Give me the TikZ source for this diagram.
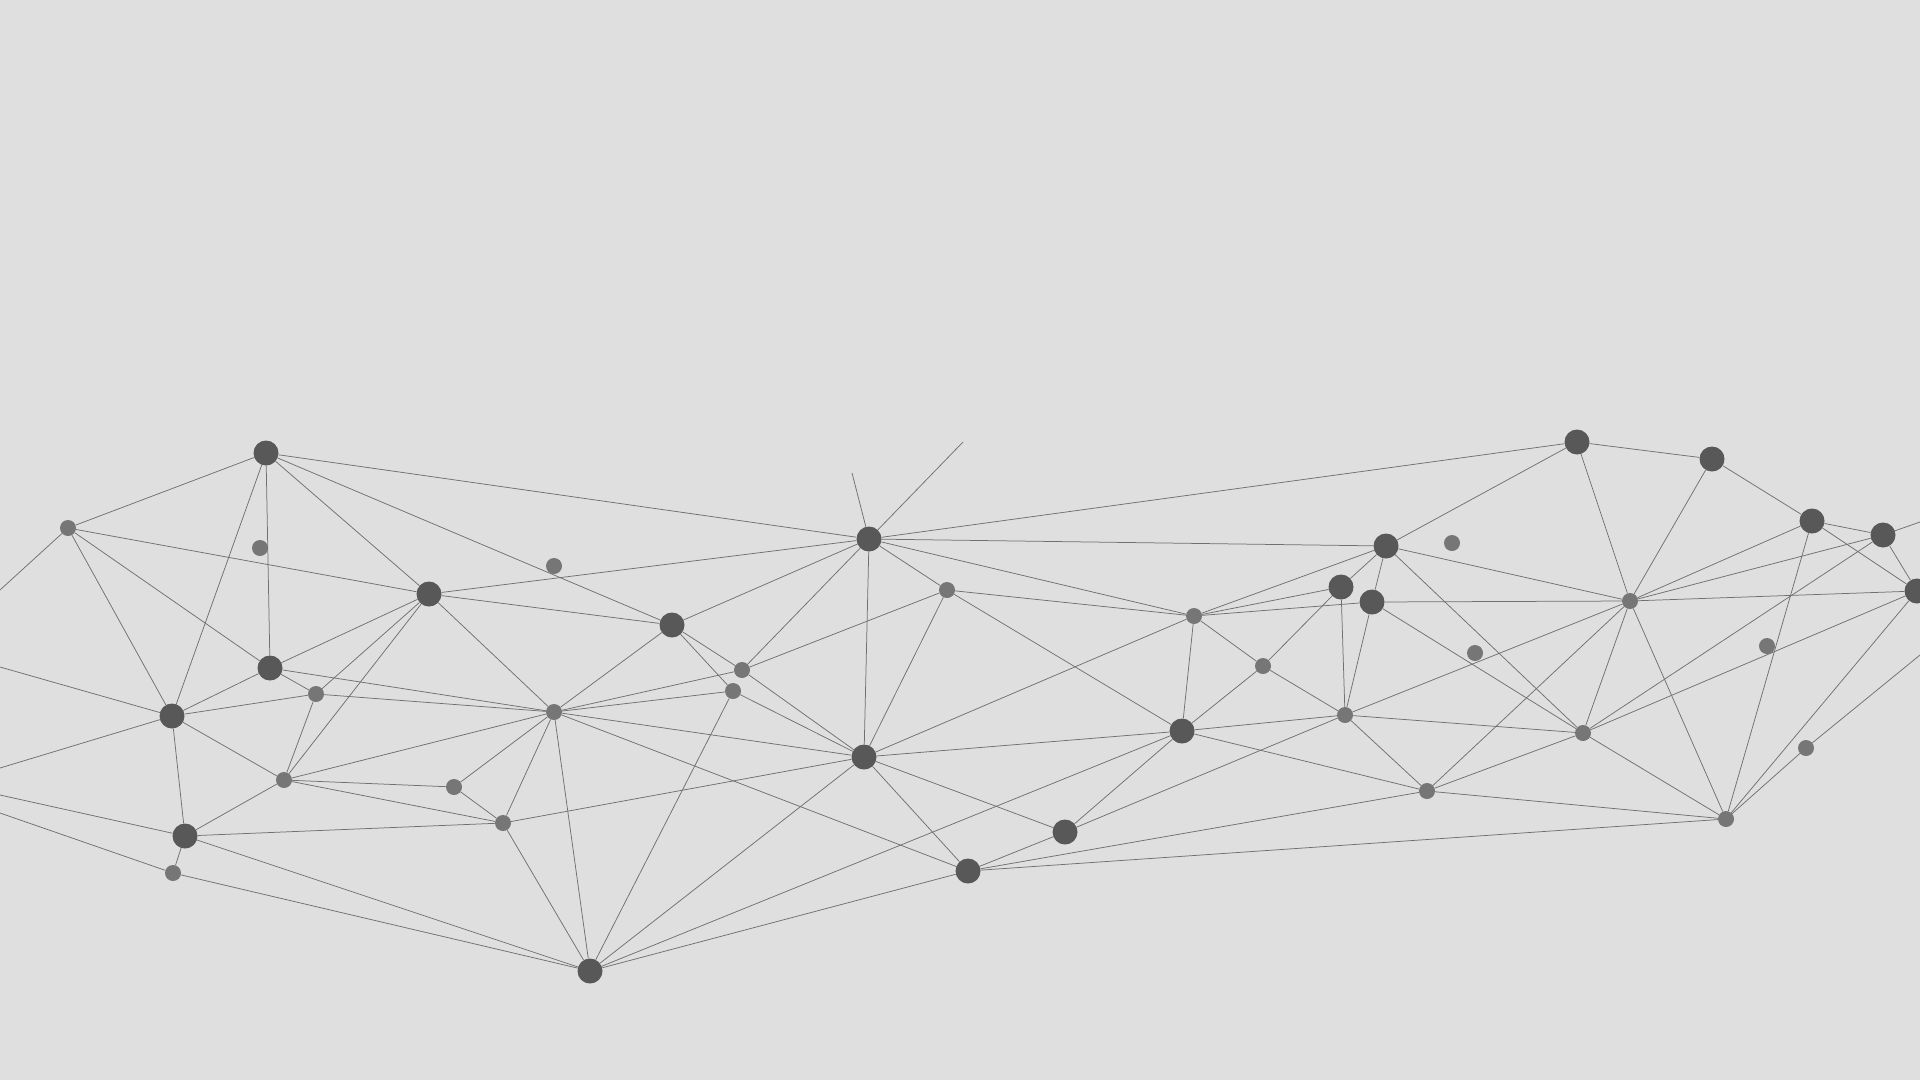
\documentclass[tikz,border=0pt]{standalone}
\begin{document}
\definecolor{bgc}{RGB}{223,223,223}
\definecolor{bigc}{RGB}{88,88,88}
\definecolor{smallc}{RGB}{118,118,118}
\definecolor{linec}{RGB}{112,112,112}
\begin{tikzpicture}[x=1pt,y=-1pt,
  big/.style={circle,fill=bigc,inner sep=0pt,minimum size=25pt},
  small/.style={circle,fill=smallc,inner sep=0pt,minimum size=16pt},
  edge/.style={draw=linec,line width=0.75pt}]
\fill[bgc] (0,0) rectangle (1920,1080);
\useasboundingbox (0,0) rectangle (1920,1080);
% nodes
\node[big]   (A)  at (266,453) {};
\node[small] (B)  at (68,528) {};
\node[small] (C)  at (260,548) {};
\node[big]   (D)  at (270,668) {};
\node[big]   (E)  at (172,716) {};
\node[small] (F)  at (316,694) {};
\node[big]   (G)  at (429,594) {};
\node[small] (H)  at (554,566) {};
\node[big]   (I)  at (672,625) {};
\node[small] (J)  at (742,670) {};
\node[small] (K)  at (733,691) {};
\node[small] (L)  at (554,712) {};
\node[big]   (M)  at (869,539) {};
\node[small] (N)  at (947,590) {};
\node[small] (O)  at (1194,616) {};
\node[big]   (P)  at (1386,546) {};
\node[small] (Q)  at (1452,543) {};
\node[big]   (R)  at (1341,587) {};
\node[big]   (S)  at (1372,602) {};
\node[small] (T)  at (1263,666) {};
\node[small] (U)  at (1475,653) {};
\node[small] (V)  at (1345,715) {};
\node[big]   (W)  at (1182,731) {};
\node[big]   (X)  at (1577,442) {};
\node[big]   (Y)  at (1712,459) {};
\node[small] (Z)  at (1630,601) {};
\node[big]   (AA) at (1812,521) {};
\node[big]   (AB) at (1883,535) {};
\node[big]   (AC) at (1917,591) {};
\node[small] (AD) at (1767,646) {};
\node[small] (AE) at (284,780) {};
\node[big]   (AF) at (185,836) {};
\node[small] (AG) at (173,873) {};
\node[small] (AH) at (454,787) {};
\node[small] (AI) at (503,823) {};
\node[big]   (AJ) at (590,971) {};
\node[big]   (AK) at (864,757) {};
\node[big]   (AL) at (968,871) {};
\node[big]   (AM) at (1065,832) {};
\node[small] (AN) at (1427,791) {};
\node[small] (AO) at (1583,733) {};
\node[small] (AP) at (1726,819) {};
\node[small] (AQ) at (1806,748) {};
% free ends
\coordinate (f1) at (0,590);
\coordinate (f2) at (0,667);
\coordinate (f3) at (0,768);
\coordinate (f4) at (0,795);
\coordinate (f5) at (0,813);
\coordinate (f6) at (852,473);
\coordinate (f7) at (963,442);
\coordinate (f8) at (1920,522);
\coordinate (f9) at (1920,655);
% edges
\foreach \a/\b in {A/B,A/E,A/D,A/G,A/M,A/I,
  B/f1,B/G,B/D,B/E,
  D/G,D/E,D/F,D/L,
  E/F,E/AF,E/AE,E/f2,E/f3,
  F/G,F/AE,F/L,
  AE/G,AE/L,AE/AH,AE/AI,AE/AF,
  AF/AG,AF/f4,AF/AI,AF/AJ,
  AG/f5,AG/AJ,
  G/M,G/I,G/L,
  I/M,I/J,I/K,I/L,
  J/AK,J/M,J/N,J/L,
  K/L,K/AK,K/AJ,
  L/AH,L/AI,L/AJ,L/AK,L/AL,
  AH/AI,AI/AK,AI/AJ,
  AJ/AK,AJ/W,AJ/AL,
  AK/M,AK/N,AK/O,AK/W,AK/AM,AK/AL,
  M/N,M/X,M/P,M/O,M/f6,M/f7,
  N/O,N/W,
  O/P,O/R,O/S,O/T,O/W,
  P/R,P/S,P/X,P/Z,P/AO,
  R/T,R/V,
  S/Z,S/V,S/AO,
  T/V,T/W,
  V/W,V/AO,V/AN,V/Z,V/AM,
  W/AM,W/AN,
  AM/AL,AL/AN,AL/AP,
  AN/AO,AN/AP,AN/Z,
  AO/Z,AO/AB,AO/AC,AO/AP,
  AP/Z,AP/AA,AP/AC,AP/AQ,AQ/f9,
  X/Y,X/Z,Y/Z,Y/AA,
  Z/AA,Z/AB,Z/AC,
  AA/AB,AA/AC,AB/AC,AB/f8}
  \draw[edge] (\a) -- (\b);
\end{tikzpicture}
\end{document}
